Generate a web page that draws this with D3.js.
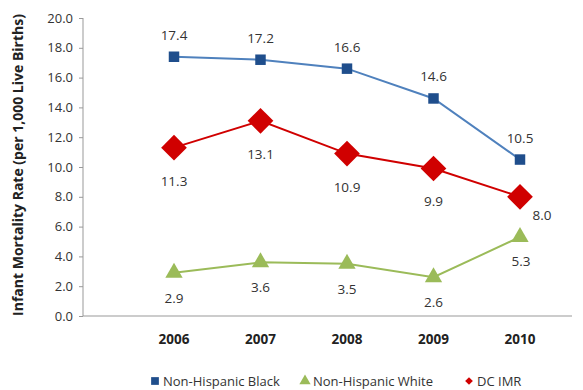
<!DOCTYPE html>
<head>
    <meta charset="utf-8">
    <script src="https://d3js.org/d3.v7.min.js"></script>
</head>
<style>
    body { margin: 0; background: #fff; }
    text { font-family: "Open Sans", "Liberation Sans", sans-serif; }
</style>
<body>
    <div id="chart"></div>
</body>

<script>
    const years = ["2006", "2007", "2008", "2009", "2010"];
    const black = [17.4, 17.2, 16.6, 14.6, 10.5];
    const white = [2.9, 3.6, 3.5, 2.6, 5.3];
    const dcImr = [11.3, 13.1, 10.9, 9.9, 8.0];
    const yTicks = [0, 2, 4, 6, 8, 10, 12, 14, 16, 18, 20];
    const seriesNames = ["Non-Hispanic Black", "Non-Hispanic White", "DC IMR"];

    const W = 583, H = 390;
    const svg = d3.select("#chart").append("svg")
        .attr("width", W).attr("height", H);

    const y = d3.scaleLinear().domain([0, 20]).range([316, 18]);
    const x = d3.scalePoint().domain(years).range([174, 520]);

    // axes
    const yAxis = svg.append("g")
        .attr("transform", "translate(83,0)")
        .call(d3.axisLeft(y).tickValues(yTicks).tickFormat(d3.format(".1f")).tickSize(4).tickPadding(6));
    yAxis.select(".domain").attr("stroke", "#999").attr("d", "M0,18V316");
    yAxis.selectAll(".tick line").attr("stroke", "#999");
    yAxis.selectAll(".tick text").attr("font-size", 13).attr("fill", "#333");

    svg.append("line")
        .attr("x1", 83).attr("x2", 572).attr("y1", 316).attr("y2", 316)
        .attr("stroke", "#999");

    svg.append("g").selectAll("text").data(years).join("text")
        .attr("x", d => x(d)).attr("y", 344)
        .attr("text-anchor", "middle")
        .attr("font-size", 13.5).attr("font-weight", "bold").attr("fill", "#222")
        .text(d => d);

    svg.append("text")
        .attr("transform", "translate(23,165) rotate(-90)")
        .attr("text-anchor", "middle")
        .attr("font-size", 14).attr("font-weight", "bold").attr("fill", "#222")
        .text("Infant Mortality Rate (per 1,000 Live Births)");

    const line = d3.line().x((d, i) => x(years[i])).y(d => y(d));

    function drawSeries(vals, lineColor, symbol, size, fill, rotate, labelOffsets) {
        svg.append("path").datum(vals)
            .attr("d", line).attr("fill", "none")
            .attr("stroke", lineColor).attr("stroke-width", 2);
        svg.append("g").selectAll("path").data(vals).join("path")
            .attr("d", d3.symbol().type(symbol).size(size))
            .attr("transform", (d, i) => `translate(${x(years[i])},${y(d)}) rotate(${rotate})`)
            .attr("fill", fill);
        svg.append("g").selectAll("text").data(vals).join("text")
            .attr("x", (d, i) => x(years[i]) + labelOffsets[i][0])
            .attr("y", (d, i) => y(d) + labelOffsets[i][1])
            .attr("text-anchor", "middle")
            .attr("font-size", 13.5).attr("fill", "#333")
            .text(d => d3.format(".1f")(d));
    }

    drawSeries(black, "#4f81bd", d3.symbolSquare, 110, "#1f4e8c", 0,
        [[0, -17], [0, -17], [0, -17], [0, -17], [0, -17]]);
    drawSeries(dcImr, "#d00000", d3.symbolSquare, 330, "#d00000", 45,
        [[0, 38], [0, 38], [0, 38], [0, 38], [22, 23]]);
    drawSeries(white, "#9bbb59", d3.symbolTriangle, 130, "#9bbb59", 0,
        [[0, 30], [0, 30], [0, 30], [0, 30], [1, 29]]);

    // legend
    const legend = svg.append("g").attr("transform", "translate(0,386)");
    const legendItems = [
        {x: 155, sym: d3.symbolSquare, size: 60, fill: "#1f4e8c", rot: 0},
        {x: 305, sym: d3.symbolTriangle, size: 55, fill: "#9bbb59", rot: 0},
        {x: 469, sym: d3.symbolSquare, size: 30, fill: "#d00000", rot: 45}
    ];
    legendItems.forEach((it, i) => {
        legend.append("path")
            .attr("d", d3.symbol().type(it.sym).size(it.size))
            .attr("transform", `translate(${it.x},-5) rotate(${it.rot})`)
            .attr("fill", it.fill);
        legend.append("text")
            .attr("x", it.x + 8).attr("y", 0)
            .attr("font-size", 13).attr("fill", "#333")
            .text(seriesNames[i]);
    });
</script>
